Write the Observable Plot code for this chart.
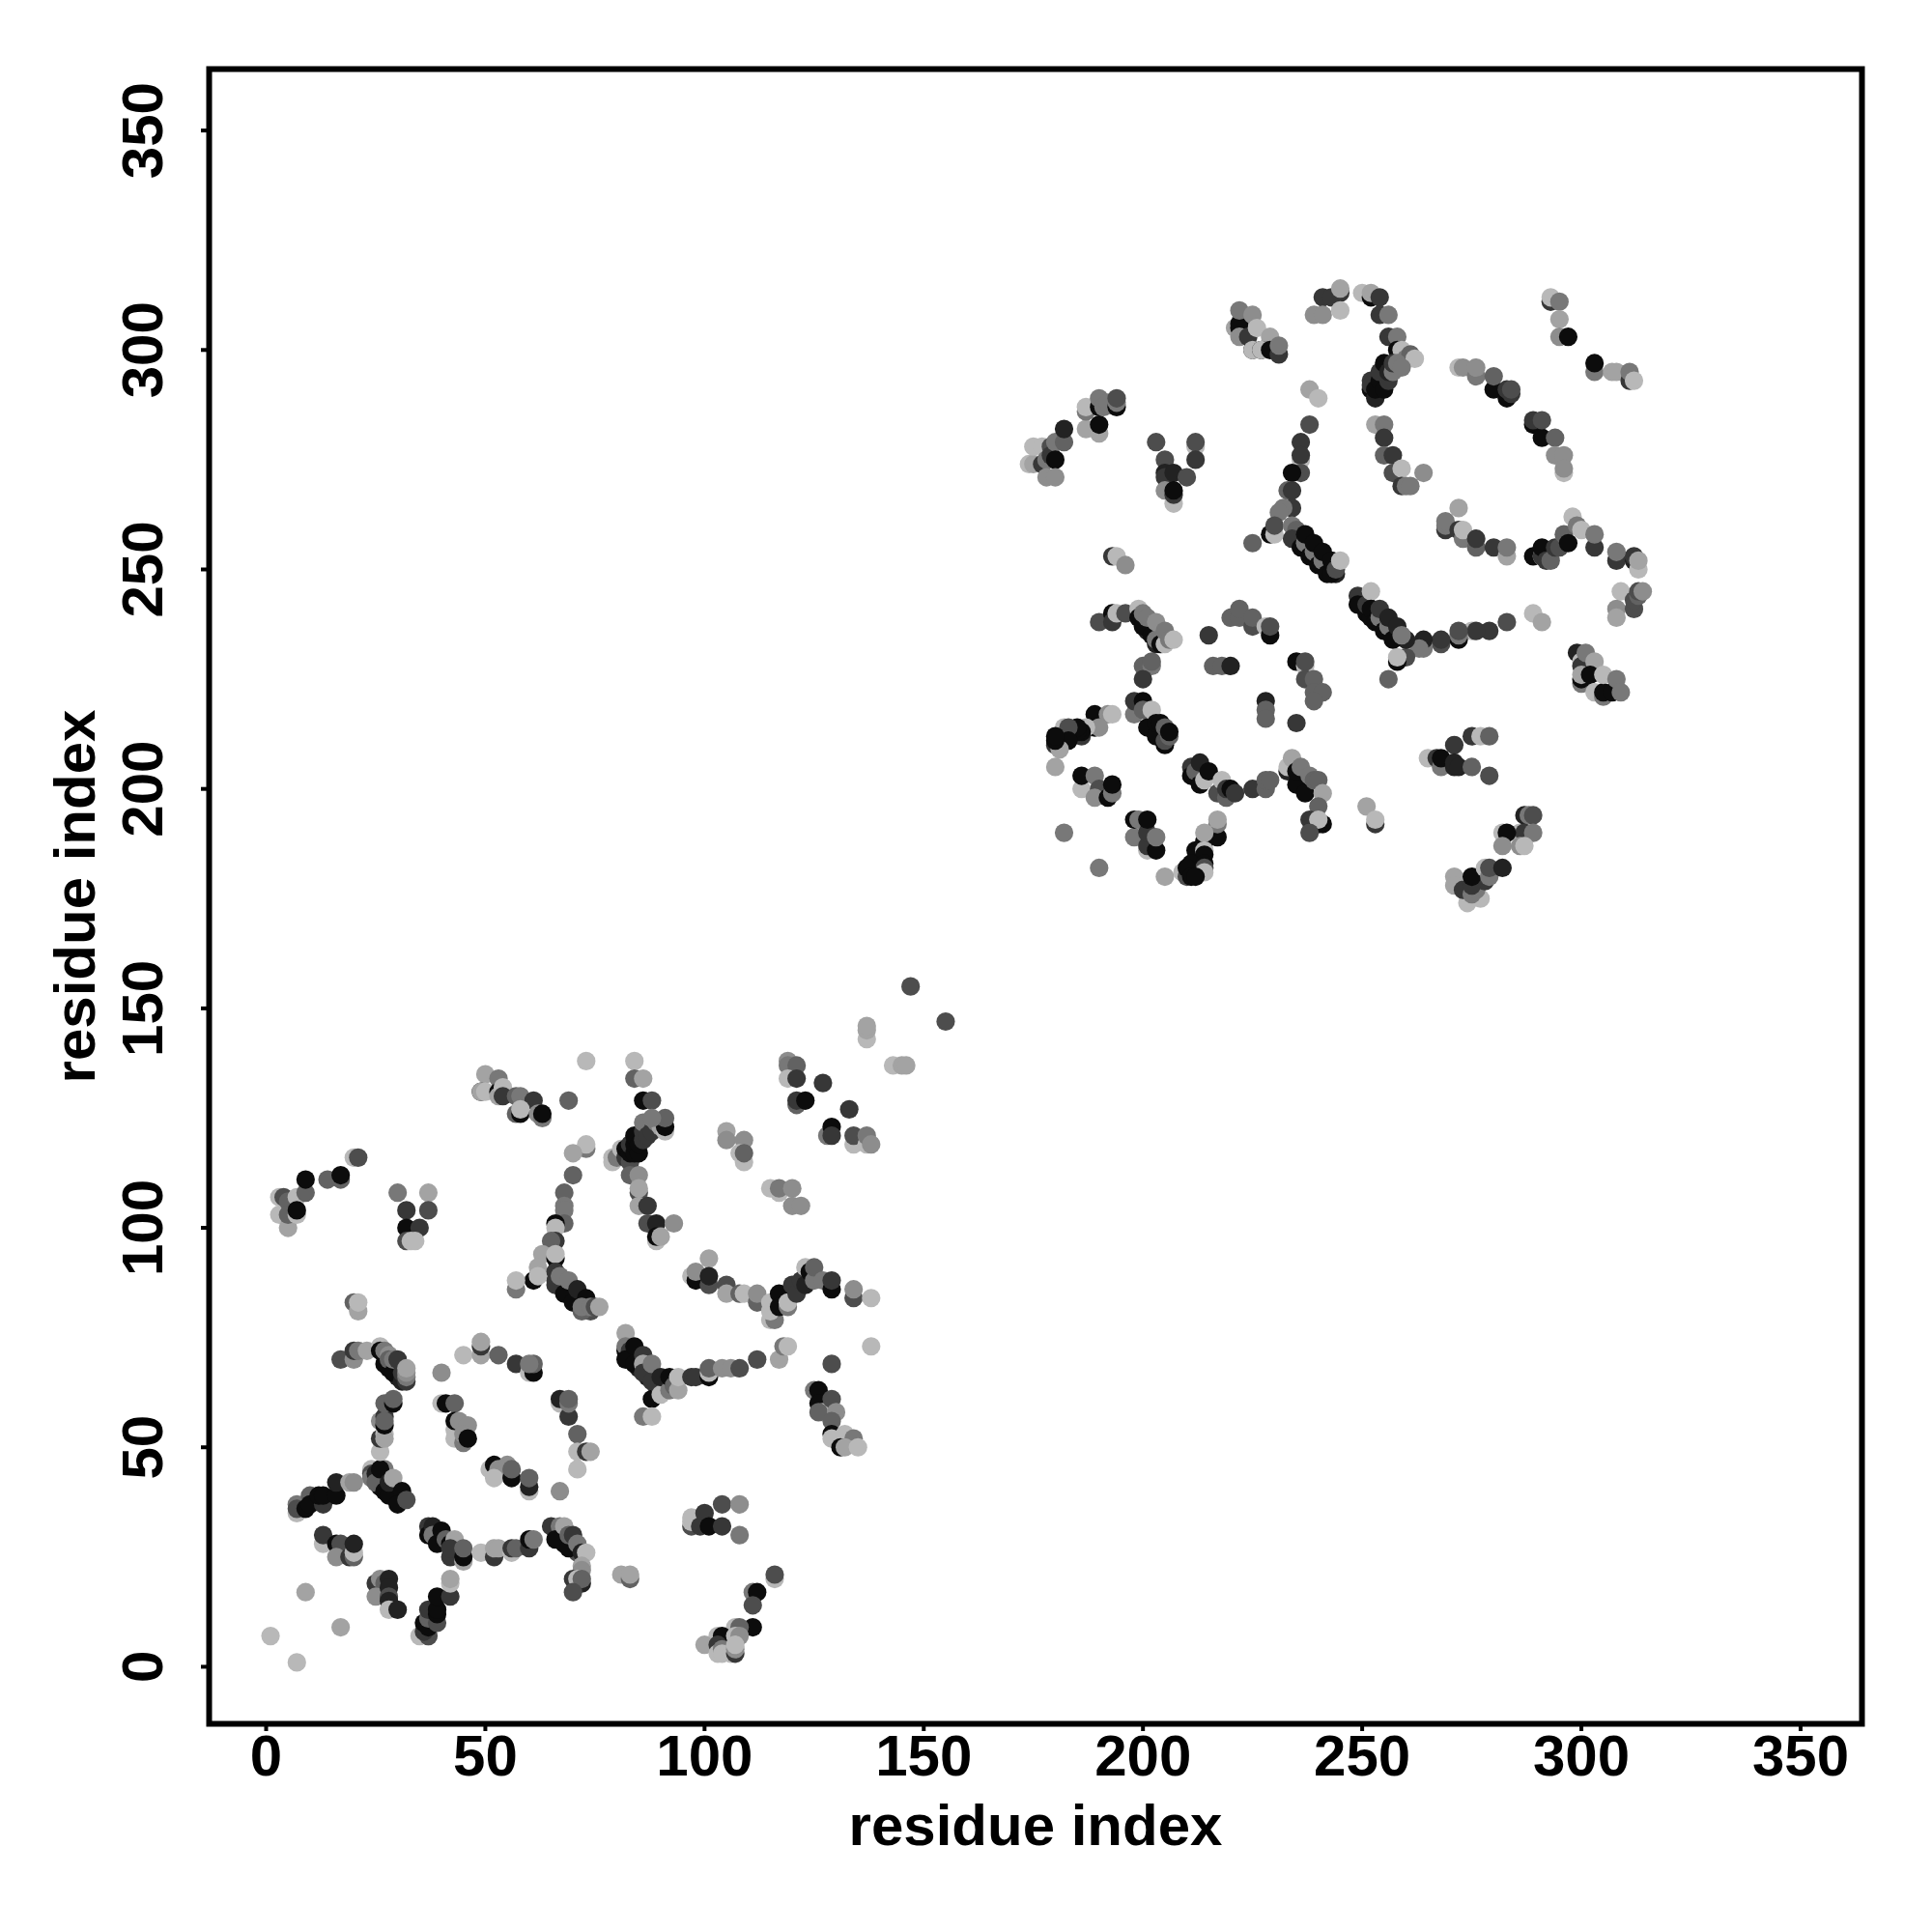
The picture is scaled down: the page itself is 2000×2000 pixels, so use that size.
<!DOCTYPE html>
<html><head><meta charset="utf-8">
<style>html,body{margin:0;padding:0;background:#fff}svg{display:block;max-width:none!important}</style>
<script src="https://cdn.jsdelivr.net/npm/d3@7"></script>
<script src="https://cdn.jsdelivr.net/npm/@observablehq/plot@0.6"></script>
</head><body><div id="c"></div>
<script>
// [residue i, residue j, contact score 1..9]
const denseBands = [
[66,88,7],[67,87,8],[68,87,9],[69,85,8],[70,85,7],[71,84,8],[72,83,9],[74,81,6],
[82,72,9],[83,70,9],[85,70,8],[85,68,8],[87,66,8],[87,68,5],[89,64,7],[89,66,5],[91,64,7],
[236,258,7],[238,255,8],[240,253,8],[242,251,8],[244,249,8],
[250,243,8],[251,240,9],[252,239,9],[201,236,8],[203,233,8],
[26,43,9],[27,42,9],[29,39,9],[29,41,8],[30,39,8],[31,38,7],
[27,71,8],[28,68,9],[30,67,9],[30,66,8],[31,66,6],
[66,31,7],[67,29,9],[67,30,8],[68,28,9],[70,27,8],[71,26,6]
];
const lowerLeft = [
[1,7,1],[7,1,1],[9,17,2],[17,9,2],
[25,19,7],[26,20,3],[27,19,5],[28,20,8],[25,16,3],[28,18,8],[28,16,6],[28,15,8],[28,13,1],[30,13,8],
[37,7,1],[35,7,1],[37,7,6],[36,8,7],[36,10,9],[37,9,9],[37,11,5],[37,13,7],[39,10,6],[39,12,9],[39,13,9],[39,16,9],[42,16,7],[42,19,1],[42,20,2],
[7,35,1],[7,37,4],[7,36,6],[9,36,9],[10,39,5],[10,37,9],[13,38,4],[13,37,7],[12,39,9],[13,39,9],[16,39,9],[16,42,8],[19,42,2],[20,42,3],
[13,28,1],[13,30,7],[16,28,9],[17,28,6],[16,25,3],[19,25,7],[20,25,5],[20,26,1],[20,28,8],
[24,45,1],[24,44,6],[24,43,4],[25,44,8],[26,41,9],[25,42,5],[27,40,9],[28,39,9],[27,45,4],[26,45,9],[28,42,8],[29,43,2],[31,40,9],[30,37,9],[32,38,6],
[26,49,1],[26,52,7],[27,53,1],[27,52,2],[26,56,3],[27,55,9],[27,57,7],[27,56,5],[27,60,5],[29,60,9],[29,61,5],
[17,70,6],[20,70,3],[20,72,7],[21,72,4],[23,72,2],[26,73,1],[26,72,9],[27,69,9],[27,72,4],[28,71,3],[28,70,5],[29,67,9],[29,70,4],[30,70,7],[31,65,8],[31,67,7],[32,65,7],[32,66,4],[32,67,3],[32,68,2],
[40,67,3],[45,71,1],[49,71,2],[49,73,7],[49,74,2],[53,71,5],[57,69,7],[60,67,1],[61,67,9],[61,69,5],[60,69,4],
[40,60,1],[41,60,9],[43,60,5],[43,54,1],[43,52,1],[43,56,9],[44,56,3],[46,55,3],[45,51,4],[45,53,3],[46,52,9],
[51,45,1],[52,46,9],[53,45,3],[52,43,1],[55,46,3],[56,43,9],[56,45,5],[60,40,1],[60,41,8],[60,43,5],[67,40,3],
[67,60,1],[67,61,8],[69,57,7],[69,60,4],[69,61,5],[71,53,5],[71,49,1],[73,49,7],[74,49,2],[71,45,1],
[37,32,7],[37,30,9],[38,32,8],[38,30,4],[39,28,9],[40,31,9],[41,29,5],[42,28,9],[42,25,7],[43,29,2],[42,27,7],[45,24,2],[45,25,9],[45,27,5],
[49,26,1],[52,25,7],[52,27,2],[53,27,2],[56,26,1],[56,27,7],[57,27,5],[60,27,7],[60,29,9],[61,29,4],
[65,32,7],[67,32,4],[66,29,9],[68,32,2],[69,27,9],[69,30,5],[70,30,7],[71,28,4],[72,26,8],[73,26,1],[72,23,2],[72,22,3],[72,19,8],[70,20,7],[71,20,1],[72,20,5],[70,17,6],
[81,21,2],[83,20,5],[83,21,2],
[3,107,1],[3,103,1],[4,107,6],[5,100,2],[5,106,5],[5,103,5],[7,107,1],[7,103,1],[7,104,9],[9,108,5],[9,111,9],[14,111,5],[17,111,5],[17,112,9],[20,116,1],[21,116,6],
[30,108,4],[37,108,2],[32,104,7],[37,104,6],[32,100,9],[35,100,7],[32,97,6],[33,97,1],[34,97,1],
[20,83,5],[21,81,2],[21,83,1],
[50,135,2],[53,134,4],[49,131,9],[49,131,2],[50,131,1],[53,131,9],[53,130,2],[54,132,1],[54,130,7],[57,130,5],[58,130,4],[61,129,7],[57,126,5],[58,126,9],[58,127,1],[62,126,3],[63,125,4],[63,126,9],
[69,129,5],[73,138,1],[73,118,4],[73,119,1],[70,117,2],[70,112,5],[68,108,5],[68,105,4],[68,104,4],[68,101,5],[66,101,9],[66,100,1],[66,97,7],[65,97,5],[63,94,2],[66,93,9],[66,94,1],[62,91,2],[61,88,9],[62,89,1],[57,86,4],[57,88,1],
[66,90,7],[66,87,7],[68,85,9],[67,89,4],[70,83,9],[69,88,4],[71,86,8],[72,81,5],[73,84,9],[72,82,4],[74,82,4],[75,82,6],[76,82,2],
[84,138,1],[84,134,5],[86,134,2],[86,129,9],[88,129,6],
[79,115,1],[79,116,1],[80,116,4],[81,118,1],[82,116,7],[83,115,6],[82,118,9],[83,117,9],[83,119,7],[84,117,9],[84,119,9],[84,121,9],[85,117,9],[85,119,9],[86,120,7],[86,122,7],[86,124,4],[87,121,7],[88,122,7],[89,124,4],[90,123,2],[91,122,1],[91,123,9],[91,125,5],[88,125,4],
[83,112,5],[85,112,3],[85,108,6],[85,109,2],[85,105,2],[87,105,7],[87,101,6],[89,101,8],[93,101,3],[89,97,1],[89,98,9],[90,98,2],
[105,122,2],[105,120,3],[109,120,3],[108,117,1],[109,115,1],[109,117,5],
[115,109,1],[117,108,1],[117,109,4],[120,109,3],[120,105,3],[122,105,3],
[119,138,3],[119,137,4],[121,137,5],[119,134,1],[121,134,7],[127,133,7],[121,128,5],[121,129,7],[123,129,9],[133,127,7],[128,121,4],[129,123,9],[129,121,7],[134,119,1],[134,121,6],[137,119,1],[137,121,4],[138,119,3],
[137,143,1],[137,145,2],[137,146,2],[143,137,1],[145,137,2],[146,137,2],[147,155,6],[155,147,6],
[101,93,2],[97,89,1],[98,88,9],[98,90,3],[101,87,6],[101,89,8],[105,87,6],[105,85,2],[108,85,5],[109,85,1],[112,83,5],[112,85,3],
[115,79,1],[116,79,4],[115,81,1],[115,83,1],[117,85,9],[117,82,9],[119,82,4],[119,83,1],[120,87,7],[121,85,7],[122,88,7],[123,87,8],[123,91,1],[124,90,9],[125,88,4],[125,91,5],[127,88,4],[129,86,9],[129,88,7],[134,84,6],[134,86,3],[138,84,1],
[82,76,2],[82,73,4],[83,72,7],[82,70,9],[84,73,9],[84,69,9],[86,71,7],[86,69,2],[86,67,7],[88,65,7],[88,69,4],[88,61,9],[90,63,7],[90,62,1],[90,66,8],[92,63,4],[92,66,9],[93,64,5],[94,63,2],[94,66,1],
[97,66,7],[98,66,7],[101,66,9],[101,67,1],[101,68,5],[104,68,3],[106,68,3],[108,68,6],[112,70,6],[117,70,2],[118,73,4],[119,73,1],[138,73,1],[129,69,6],
[86,57,4],[88,57,1],
[125,63,4],[126,63,9],[126,60,9],[127,58,1],[126,58,5],[129,61,6],[130,58,3],[129,56,5],[129,53,9],[129,52,1],[132,53,1],[134,52,4],[131,50,9],[132,50,2],[135,50,1],
[97,32,6],[97,33,1],[97,34,1],[100,35,7],[99,32,7],[101,32,9],[104,37,6],[104,32,7],[108,37,3],[108,30,4],
[116,20,1],[116,21,6],[111,17,4],[112,17,9],[111,14,6],[111,9,9],[107,9,1],[108,9,5],[103,7,1],[104,7,9],[107,7,1],[108,7,3],[100,5,2],[103,5,7],[103,3,1],[104,4,4],[104,3,1],[106,3,1],[107,3,7],[107,4,3],[107,5,1]
];
const upperRightTop = [
[174,274,1],[175,274,2],[175,278,1],[177,278,1],[177,274,7],[179,278,6],[178,275,4],[179,276,7],[180,279,4],[180,275,9],[178,271,3],[180,271,3],[182,279,5],[182,282,8],
[187,282,2],[187,286,4],[187,287,1],[190,281,2],[190,283,9],[190,287,9],[190,289,4],[191,287,4],[192,288,4],[194,287,9],[194,288,4],[194,289,6],
[203,279,6],[212,278,1],[212,279,6],[212,275,7],[205,275,6],[205,272,8],[205,271,7],[207,272,8],[210,271,6],[205,268,3],[207,265,1],[207,267,7],[207,268,9],
[193,253,7],[194,253,1],[196,251,3],
[221,305,2],[222,305,9],[222,306,9],[222,303,3],[224,303,7],[222,309,4],[225,308,3],[226,305,1],[229,303,2],[225,300,9],[225,300,1],[227,300,9],[227,300,1],[229,300,9],[231,299,7],[231,301,4],
[241,312,7],[243,312,7],[245,313,7],[245,314,2],[239,308,3],[241,308,3],[245,309,1],
[250,313,1],[252,312,9],[252,313,2],[254,312,7],[254,308,7],[256,308,4],
[238,291,2],[240,289,1],[238,283,6],[236,279,7],[236,275,1],[236,276,7],[236,272,6],[234,272,9],[233,268,5],[234,268,7],[234,264,7],[232,264,4],[231,263,4],[229,258,9],[230,258,1],[230,260,6],[225,256,5],
[234,260,4],[235,259,5],[234,257,7],[236,255,9],[237,256,4],[237,258,9],[238,253,9],[239,254,4],[239,256,9],[240,251,9],[241,252,4],[241,254,9],[242,249,9],[243,249,9],[243,252,9],[244,250,6],[245,252,1],
[256,303,7],[258,303,4],[258,300,9],[259,300,1],[260,298,4],[261,299,5],[262,298,1],
[252,293,7],[252,291,9],[252,292,7],[253,289,8],[253,291,9],[254,293,9],[254,295,7],[255,291,9],[256,293,7],[255,297,9],[256,295,8],[257,295,4],[257,297,7],[258,297,4],[259,296,4],
[253,283,2],[255,283,4],[255,280,7],[255,276,5],[257,276,7],[257,272,6],[259,273,1],[259,269,7],[260,269,4],[261,269,4],[264,272,3],
[272,296,1],[273,296,3],[276,294,4],[276,296,3],[280,291,9],[280,294,5],[283,289,9],[283,291,7],[284,290,7],[284,291,6],
[289,283,9],[289,284,7],[291,280,9],[291,284,6],[294,280,5],[294,276,3],[296,272,1],[296,276,3],[296,273,3],
[293,311,7],[293,312,1],[295,311,4],[295,307,2],[295,303,3],[297,303,9],
[303,295,4],[303,297,9],[307,295,2],[308,295,2],[311,293,7],[311,295,4],[312,293,1],
[272,264,2],[269,259,7],[269,260,4],[269,261,4],[272,259,7],[273,257,4],[273,259,1],[276,255,5],[276,257,7],[280,255,7],[283,253,2],[283,255,4],
[289,253,9],[291,253,1],[291,253,7],[291,255,9],[292,252,7],[293,252,5],[294,255,7],[295,255,6],[296,258,5],[297,256,9],[298,262,1],[299,260,4],[300,259,1],[303,255,7],[303,258,4],
[308,252,7],[308,254,4],[312,252,8],[312,253,7],[313,250,1],[313,252,2]
];
const upperRightBottom = [
[309,245,1],[308,241,3],[308,239,2],[312,241,6],[312,243,6],[313,244,5],[313,245,6],[314,245,3],
[289,240,1],[291,238,2],[283,238,6],[279,236,7],[275,236,1],[276,236,7],[272,234,9],[272,235,4],[272,236,6],[268,233,6],[268,234,7],[264,232,4],[264,234,8],[263,232,4],[260,230,6],[260,234,8],[258,229,9],[258,230,1],[256,225,5],
[249,244,7],[249,242,9],[251,242,7],[252,245,1],[252,241,9],[253,238,9],[254,239,4],[254,241,7],[255,236,9],[256,237,4],[256,239,8],[257,234,9],[258,237,8],[259,235,4],
[299,231,8],[300,229,1],[300,228,7],[301,231,4],[303,229,2],[300,224,4],[300,225,9],[300,226,2],[302,226,9],[303,222,1],[305,221,4],[305,222,9],[305,226,1],[307,222,9],[308,225,4],[309,222,4],
[275,212,7],[277,212,1],[279,212,5],[271,210,7],[265,207,1],[267,207,7],[268,205,4],[268,207,9],[271,205,8],[271,206,8],[272,205,8],[275,205,5],[279,203,6],
[251,196,2],[253,192,7],[253,193,1],
[286,190,1],[287,194,8],[288,194,4],[287,190,7],[289,194,6],[289,190,4],[282,190,1],[283,190,9],[282,187,3],[286,187,3],[287,187,1],
[271,180,2],[271,178,2],[277,175,1],[274,174,1],[273,177,7],[275,176,4],[276,177,4],[278,179,7],[275,178,7],[275,180,9],[278,182,1],[279,180,4],[279,182,6],[282,182,8],
[190,238,6],[193,240,9],[193,238,7],[194,240,1],[196,240,6],[199,241,1],[199,239,9],[200,237,9],[200,240,4],[201,239,4],[202,235,9],[203,234,4],[203,238,3],[204,233,9],[205,233,1],[205,236,4],[206,234,4],[207,234,1],
[200,228,5],[202,228,4],[202,229,5],[200,225,7],
[215,235,7],[220,239,5],[222,239,5],[222,241,5],[225,237,6],[225,239,5],[228,237,1],[229,235,9],[229,237,6],
[216,228,5],[218,228,5],[220,228,8],
[235,229,9],[237,228,1],[237,229,6],[237,225,6],[239,225,5],[239,222,5],[241,222,5],[239,220,5],
[228,220,8],[228,218,5],[228,216,5],[235,215,7],
[189,217,9],[192,217,3],[193,217,1],[189,214,9],[190,214,3],[187,214,1],[186,212,7],[186,213,9],[185,213,9],[185,214,9],[182,214,1],[183,214,6],[183,211,9],[180,210,7],[181,209,2],[180,211,9],[180,212,9],
[180,205,2],[182,190,4],[190,182,4],[205,180,2],
[186,200,1],[186,203,9],[189,203,4],[190,200,6],[189,198,3],[192,198,9],[193,199,4],[193,201,9],
[198,217,4],[198,220,7],[200,220,9],[200,218,5],[201,214,9],[202,218,1],[203,212,9],[203,215,9],[204,215,9],[205,210,9],[205,211,6],[205,214,5],[206,212,5],[206,213,9],
[211,205,7],[211,203,9],[212,204,5],[213,206,8],[213,201,9],[214,202,1],[215,204,9],[217,199,6],[218,202,1],[219,198,5],[219,200,7],[220,200,9],[221,199,7],
[225,200,7],[228,200,5],[228,202,5],[229,202,5],
[233,204,8],[233,205,1],[234,207,2],[235,201,9],[235,204,9],[236,205,4],[237,199,9],[238,203,4],[239,202,5],[240,202,5],[241,199,2],
[240,196,5],[238,193,7],[241,192,9],[240,192,9],[240,193,1],[238,190,6],
[217,189,9],[217,192,4],[217,193,2],[214,188,9],[214,190,2],[212,186,9],[214,186,1],[214,185,9],[211,183,9],[214,183,9],[214,182,6],[214,181,1],[209,181,1],[210,180,6],[210,182,9],[211,180,9],[212,180,9],
[198,189,4],[198,193,9],[199,193,4],[201,186,1],[201,187,7],[201,190,7],[201,193,9],[203,186,9],[203,189,4]
];
const tickValues = [0,50,100,150,200,250,300,350];
const axisLabel = "residue index";

const contacts = [...denseBands, ...lowerLeft, ...upperRightTop, ...upperRightBottom].map(([i,j,score]) => ({i,j,score}));
const font = "'Liberation Sans', Arial, sans-serif";
const chart = Plot.plot({
  width: 2000, height: 2000,
  marginLeft: 216, marginRight: 73, marginTop: 71, marginBottom: 216,
  style: {background: "#fff", fontFamily: font},
  x: {domain: [-13, 364]},
  y: {domain: [-13, 364]},
  color: {type: "linear", domain: [1, 9], range: ["#b8b8b8", "#0c0c0c"]},
  marks: [
    Plot.dot(contacts, {x: "i", y: "j", fill: "score", r: 9.6}),
    Plot.frame({stroke: "#000", strokeWidth: 6}),
    Plot.axisX({ticks: tickValues, tickSize: 8, strokeWidth: 4, tickPadding: 3, fontSize: 60, fontWeight: "bold", fontFamily: font, fill: "#000", stroke: "#000",
      label: axisLabel, labelAnchor: "center", labelArrow: "none", labelOffset: 125, tickFormat: d => String(d)}),
    Plot.axisY({ticks: tickValues, tickSize: 8, strokeWidth: 4, tickPadding: 41, tickRotate: -90, fontSize: 60, fontWeight: "bold", fontFamily: font, fill: "#000", stroke: "#000",
      label: axisLabel, labelAnchor: "center", labelArrow: "none", labelOffset: 161, tickFormat: d => String(d)})
  ]
});
chart.querySelectorAll("text").forEach(t => t.setAttribute("stroke-width", "1.2"));
document.getElementById("c").appendChild(chart);
</script></body></html>
